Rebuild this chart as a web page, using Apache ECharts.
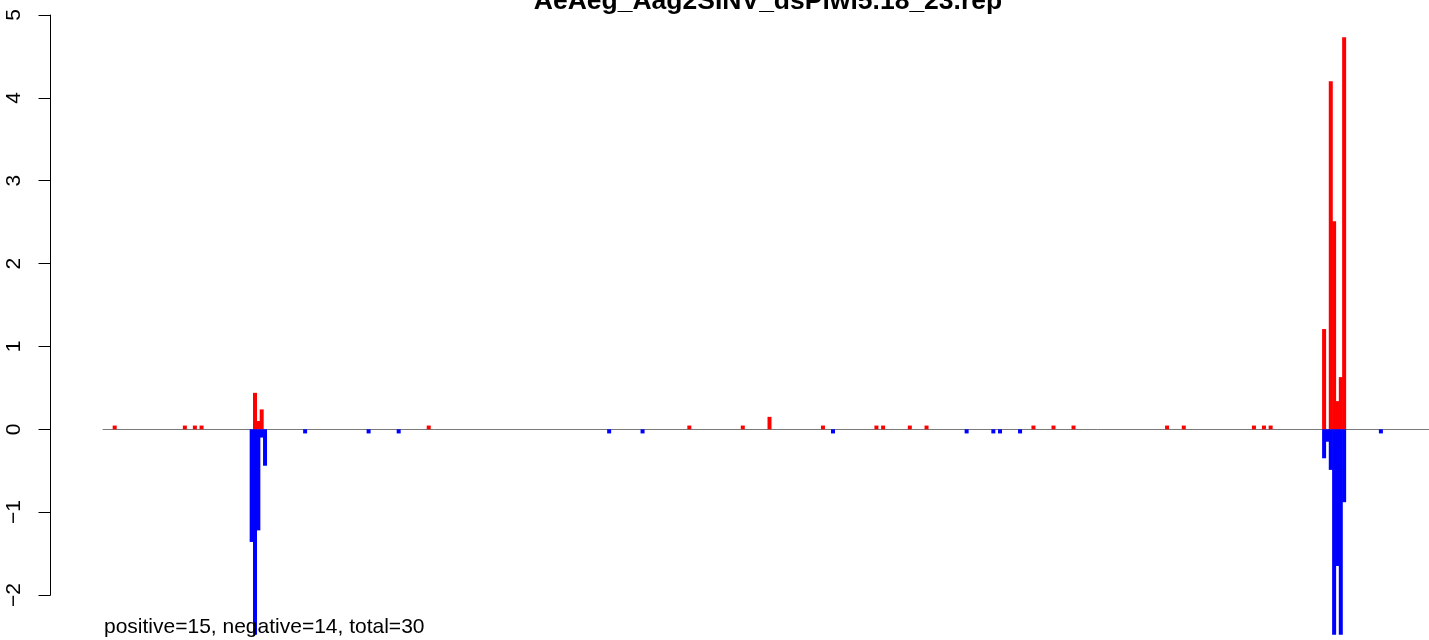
<!DOCTYPE html>
<html>
<head>
<meta charset="utf-8">
<script src="https://cdn.jsdelivr.net/npm/echarts@6/dist/echarts.min.js"></script>
<style>
html,body{margin:0;padding:0;background:#fff;}
#chart{width:1429px;height:640px;}
</style>
</head>
<body>
<div id="chart"></div>
<script>
// Title and annotation
const titleText = 'AeAeg_Aag2SINV_dsPiwi5.18_23.rep';
const noteText = 'positive=15, negative=14, total=30';

// y-axis ticks
const yTicks = [-2, -1, 0, 1, 2, 3, 4, 5];

// Positive-strand positions and values (red)
const posX = [3, 24, 27, 29, 45, 46, 47, 97, 175, 191, 199, 215, 231, 233, 241, 246,
              278, 284, 290, 318, 323, 344, 347, 349, 365, 367, 368, 369, 370, 371];
const posY = [0.045, 0.045, 0.045, 0.045, 0.44, 0.10, 0.24, 0.045, 0.045, 0.045, 0.15, 0.045, 0.045, 0.045, 0.045, 0.045,
              0.045, 0.045, 0.045, 0.045, 0.045, 0.045, 0.045, 0.045, 1.21, 4.20, 2.51, 0.34, 0.63, 4.73];

// Negative-strand positions and values (blue)
const negX = [44, 45, 46, 47, 48, 60, 79, 88, 151, 161, 218, 258, 266, 268, 274,
              365, 366, 367, 368, 369, 370, 371, 382];
const negY = [-1.36, -2.48, -1.22, -0.10, -0.44, -0.05, -0.05, -0.05, -0.05, -0.05, -0.05, -0.05, -0.05, -0.05, -0.05,
              -0.35, -0.15, -0.49, -2.48, -1.65, -2.48, -0.88, -0.05];

const posData = posX.map((x, i) => [x, posY[i]]);
const negData = negX.map((x, i) => [x, negY[i]]);

const chart = echarts.init(document.getElementById('chart'), null, {renderer: 'canvas'});
const FONT = '"Liberation Sans", Arial, Helvetica, sans-serif';

chart.setOption({
  animation: false,
  backgroundColor: '#ffffff',
  grid: {left: 103, right: 0, top: 15, bottom: 45, containLabel: false},
  xAxis: {
    type: 'value', min: -0.5, max: 396.4,
    axisLine: {show: true, onZero: true, lineStyle: {color: '#7a7a7a', width: 1}},
    axisTick: {show: false}, axisLabel: {show: false}, splitLine: {show: false}
  },
  yAxis: {
    type: 'value', min: yTicks[0], max: yTicks[yTicks.length - 1], interval: 1,
    position: 'left', offset: 52.5,
    axisLine: {show: true, onZero: false, lineStyle: {color: '#000', width: 1}},
    axisTick: {show: true, length: 12, lineStyle: {color: '#000', width: 1}},
    axisLabel: {
      rotate: 90, fontSize: 21, color: '#000', margin: 26, fontFamily: FONT,
      formatter: v => (v < 0 ? '\u2212' + Math.abs(v) : String(v))
    },
    splitLine: {show: false}
  },
  series: [
    {type: 'bar', data: posData, barWidth: 4, barGap: '-100%', clip: false,
     itemStyle: {color: '#ff0000'}, z: 3},
    {type: 'bar', data: negData, barWidth: 4, barGap: '-100%', clip: false,
     itemStyle: {color: '#0000ff'}, z: 3}
  ],
  graphic: [
    {type: 'text', z: 10,
     style: {text: titleText, x: 768, y: 1.5, textAlign: 'center', textVerticalAlign: 'middle',
             font: 'bold 26.5px ' + FONT, fill: '#000'}},
    {type: 'text', z: 10,
     style: {text: noteText, x: 104, y: 627, textAlign: 'left', textVerticalAlign: 'middle',
             font: '21px ' + FONT, fill: '#000'}}
  ]
});
</script>
</body>
</html>
